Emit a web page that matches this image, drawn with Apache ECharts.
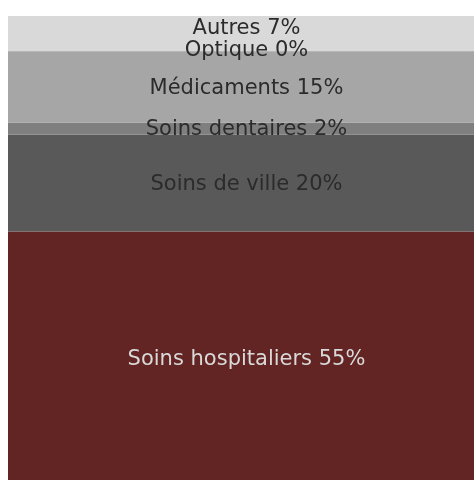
<!DOCTYPE html>
<html>
<head>
<meta charset="utf-8">
<script src="https://cdn.jsdelivr.net/npm/echarts@6/dist/echarts.min.js"></script>
<style>
  html, body { margin: 0; padding: 0; background: #fff; }
  #chart { width: 474px; height: 480px; }
</style>
</head>
<body>
<div id="chart"></div>
<script>
  // segments, bottom to top
  var names = ['Soins hospitaliers', 'Soins de ville', 'Soins dentaires', 'Médicaments', 'Optique', 'Autres'];
  var labels = ['55%', '20%', '2%', '15%', '0%', '7%'];
  var values = [54.9, 20.3, 2.5, 14.9, 0.1, 7.3];
  var colors = ['#632523', '#595959', '#7f7f7f', '#a6a6a6', '#a6a6a6', '#d9d9d9'];
  var textColors = ['#d9d9d9', '#2b2b2b', '#2b2b2b', '#2b2b2b', '#2b2b2b', '#2b2b2b'];
  // small vertical nudges so the stacked labels sit like the original
  var labelShift = [-3, 1, 1, 2, -1, -5];

  var chart = echarts.init(document.getElementById('chart'));

  var series = names.map(function (n, i) {
    return {
      name: n,
      type: 'bar',
      stack: 'total',
      barWidth: '100%',
      barCategoryGap: 0,
      itemStyle: { color: colors[i] },
      label: {
        show: true,
        position: 'inside',
        offset: [0, labelShift[i]],
        color: textColors[i],
        fontFamily: 'DejaVu Sans',
        fontSize: 21,
        formatter: function () { return n + ' ' + labels[i]; }
      },
      data: [values[i]]
    };
  });

  chart.setOption({
    animation: false,
    // bar runs a little past the right and bottom edges of the page
    grid: { left: 8, right: -11, top: 16, bottom: -14, outerBoundsMode: 'none', containLabel: false },
    xAxis: { type: 'category', data: ['Dépenses'], show: false },
    yAxis: { type: 'value', min: 0, max: 100, show: false },
    series: series
  });
</script>
</body>
</html>
